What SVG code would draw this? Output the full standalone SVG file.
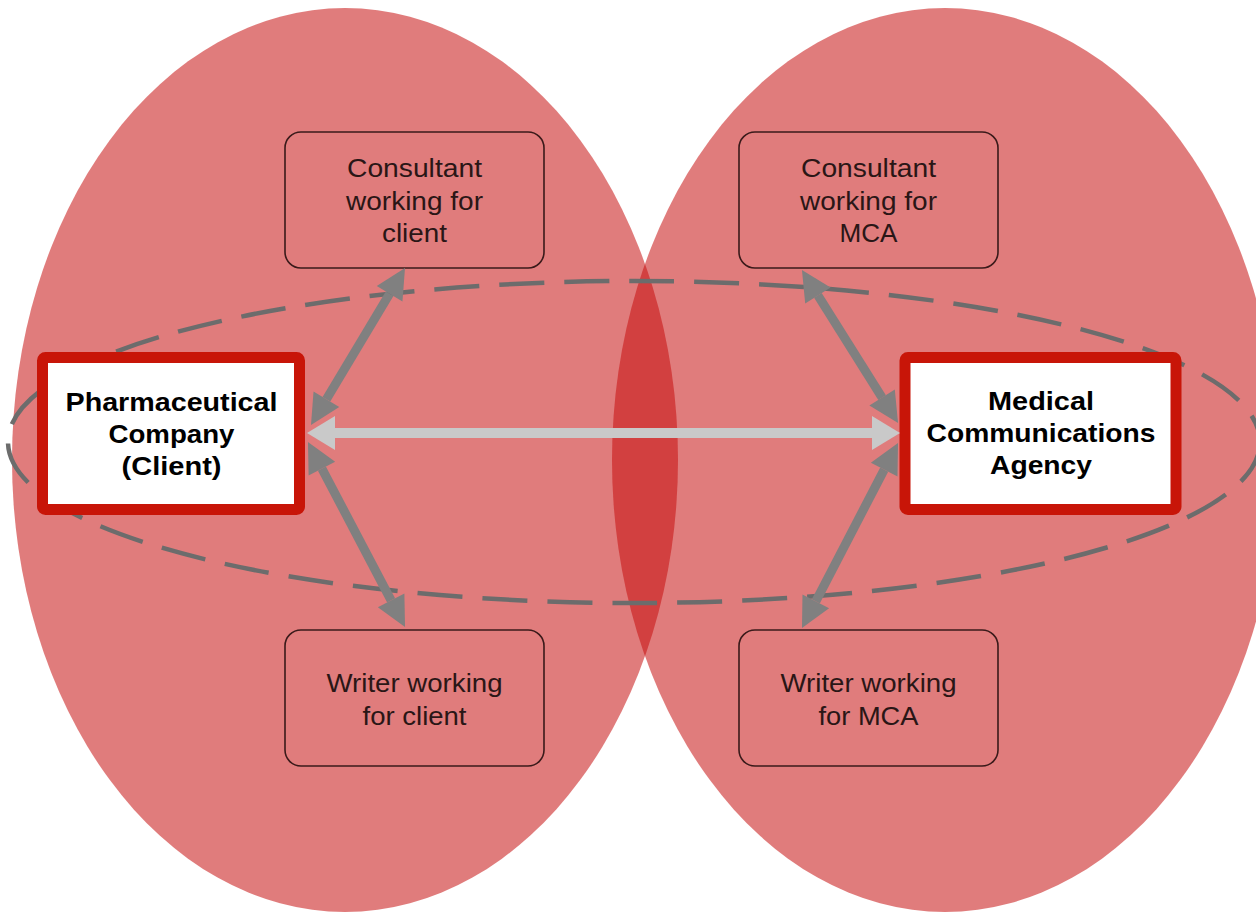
<svg xmlns="http://www.w3.org/2000/svg" width="1256" height="916" viewBox="0 0 1256 916">
  <defs>
    <style>
      .big { fill: #C60D0D; fill-opacity: 0.54; }
      .main { fill: #FFFFFF; stroke: #C81508; stroke-width: 11; }
      .sub { fill: none; stroke: #3A1A1A; stroke-width: 1.6; }
      .bold { font-family: "Liberation Sans", Arial, sans-serif; font-weight: bold; font-size: 25px; fill: #000000; text-anchor: middle; }
      .norm { font-family: "Liberation Sans", Arial, sans-serif; font-size: 25px; fill: #2A1616; text-anchor: middle; }
      .dash { fill: none; stroke: #6C6C6C; stroke-width: 4.5; stroke-dasharray: 45 20; }
      .garrow { fill: none; stroke: #808080; stroke-width: 9; marker-start: url(#gh); marker-end: url(#gh); }
      .larrow { fill: none; stroke: #C9C9C9; stroke-width: 10; marker-start: url(#lh); marker-end: url(#lh); }
    </style>
    <marker id="gh" markerUnits="userSpaceOnUse" markerWidth="32" markerHeight="32" viewBox="0 -16 32 32" refX="0" refY="0" orient="auto-start-reverse" overflow="visible">
      <path d="M0,-15 L30,0 L0,15 Z" fill="#808080"/>
    </marker>
    <marker id="lh" markerUnits="userSpaceOnUse" markerWidth="30" markerHeight="36" viewBox="0 -18 30 36" refX="0" refY="0" orient="auto-start-reverse" overflow="visible">
      <path d="M0,-17 L28,0 L0,17 Z" fill="#C9C9C9"/>
    </marker>
  </defs>

  <rect x="0" y="0" width="1256" height="916" fill="#FFFFFF"/>

  <g id="regions">
    <ellipse class="big" cx="345" cy="460" rx="333" ry="452"/>
    <ellipse class="big" cx="945" cy="460" rx="333" ry="452"/>
  </g>

  <g id="group-boundary">
    <ellipse class="dash" cx="634" cy="442" rx="626" ry="161"/>
  </g>

  <g id="node-consultant-client">
    <rect class="sub" x="285" y="132" width="259" height="136" rx="16" ry="16"/>
    <text class="norm" x="414.5" y="177" textLength="135" lengthAdjust="spacingAndGlyphs">Consultant</text>
    <text class="norm" x="414.5" y="209.5" textLength="137" lengthAdjust="spacingAndGlyphs">working for</text>
    <text class="norm" x="414.5" y="242" textLength="65" lengthAdjust="spacingAndGlyphs">client</text>
  </g>

  <g id="node-consultant-mca">
    <rect class="sub" x="739" y="132" width="259" height="136" rx="16" ry="16"/>
    <text class="norm" x="868.5" y="177" textLength="135" lengthAdjust="spacingAndGlyphs">Consultant</text>
    <text class="norm" x="868.5" y="209.5" textLength="137" lengthAdjust="spacingAndGlyphs">working for</text>
    <text class="norm" x="868.5" y="242" textLength="58" lengthAdjust="spacingAndGlyphs">MCA</text>
  </g>

  <g id="node-writer-client">
    <rect class="sub" x="285" y="630" width="259" height="136" rx="16" ry="16"/>
    <text class="norm" x="414.5" y="692" textLength="176" lengthAdjust="spacingAndGlyphs">Writer working</text>
    <text class="norm" x="414.5" y="725" textLength="104" lengthAdjust="spacingAndGlyphs">for client</text>
  </g>

  <g id="node-writer-mca">
    <rect class="sub" x="739" y="630" width="259" height="136" rx="16" ry="16"/>
    <text class="norm" x="868.5" y="692" textLength="176" lengthAdjust="spacingAndGlyphs">Writer working</text>
    <text class="norm" x="868.5" y="725" textLength="100" lengthAdjust="spacingAndGlyphs">for MCA</text>
  </g>

  <g id="node-pharma">
    <rect class="main" x="42.5" y="357.5" width="257" height="152" rx="3" ry="3"/>
    <text class="bold" x="171.5" y="411" textLength="212" lengthAdjust="spacingAndGlyphs">Pharmaceutical</text>
    <text class="bold" x="171.5" y="443" textLength="126" lengthAdjust="spacingAndGlyphs">Company</text>
    <text class="bold" x="171.5" y="475" textLength="100" lengthAdjust="spacingAndGlyphs">(Client)</text>
  </g>

  <g id="node-mca">
    <rect class="main" x="905" y="357.5" width="271" height="152" rx="3" ry="3"/>
    <text class="bold" x="1041" y="410" textLength="106" lengthAdjust="spacingAndGlyphs">Medical</text>
    <text class="bold" x="1041" y="442" textLength="229" lengthAdjust="spacingAndGlyphs">Communications</text>
    <text class="bold" x="1041" y="474" textLength="102" lengthAdjust="spacingAndGlyphs">Agency</text>
  </g>

  <g id="connectors">
    <path class="garrow" d="M326.4,399.3 L389.6,293.7"/>
    <path class="garrow" d="M321.9,468.6 L391.1,600.4"/>
    <path class="garrow" d="M882.1,397.6 L817.9,295.4"/>
    <path class="garrow" d="M884.2,469.6 L815.8,601.4"/>
    <path class="larrow" d="M335,433 L872,433"/>
  </g>
</svg>
